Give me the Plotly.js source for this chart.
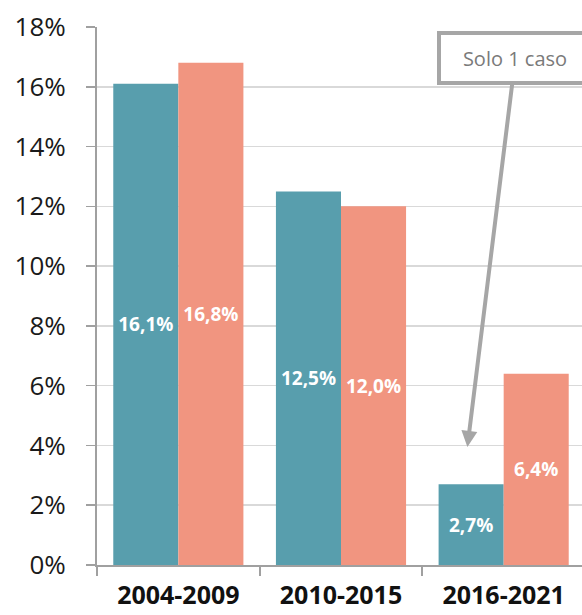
<!DOCTYPE html>
<html>
<head>
<meta charset="utf-8">
<script src="https://cdn.plot.ly/plotly-3.0.1.min.js"></script>
<style>
html,body{margin:0;padding:0;overflow:hidden;background:#fff;width:582px;height:615px;}
#chart{width:585px;height:615px;}
</style>
</head>
<body>
<div id="chart"></div>
<script>
const categories = ["2004-2009", "2010-2015", "2016-2021"];
const seriesA = [16.1, 12.5, 2.7];
const seriesB = [16.8, 12.0, 6.4];
const yTicks = [0, 2, 4, 6, 8, 10, 12, 14, 16, 18];
const noteText = "Solo 1 caso";

const fmt = v => v.toFixed(1).replace('.', ',') + '%';

const labelFont = {family: "Open Sans", size: 19, color: "#ffffff", weight: 700};

const traces = [
  {type: "bar", x: categories, y: seriesA, marker: {color: "#589EAD"},
   text: seriesA.map(v => "<b>" + fmt(v) + "</b>"), textposition: "inside", insidetextanchor: "middle",
   textangle: 0, constraintext: "none", textfont: labelFont, cliponaxis: false},
  {type: "bar", x: categories, y: seriesB, marker: {color: "#F19580"},
   text: seriesB.map(v => "<b>" + fmt(v) + "</b>"), textposition: "inside", insidetextanchor: "middle",
   textangle: 0, constraintext: "none", textfont: labelFont, cliponaxis: false}
];

const layout = {
  width: 585, height: 615,
  margin: {l: 97, r: 0, t: 27, b: 50},
  paper_bgcolor: "#ffffff", plot_bgcolor: "#ffffff",
  barmode: "group", bargap: 0.2, bargroupgap: 0,
  showlegend: false, hovermode: false,
  xaxis: {
    type: "category", range: [-0.5, 2.5],
    showline: true, linecolor: "#A0A0A0", linewidth: 2,
    ticks: "outside", tickson: "boundaries", ticklen: 9, tickcolor: "#A0A0A0", tickwidth: 2,
    tickfont: {family: "Open Sans", size: 25, color: "#111111", weight: 700},
    ticklabelstandoff: 7,
    showgrid: false, zeroline: false
  },
  yaxis: {
    range: [0, 18], tickvals: yTicks, ticktext: yTicks.map(v => v + "%"),
    showline: true, linecolor: "#A0A0A0", linewidth: 2,
    ticks: "outside", ticklen: 9, tickcolor: "#A0A0A0", tickwidth: 1.5,
    showgrid: true, gridcolor: "#D9D9D9", gridwidth: 1.5,
    zeroline: false,
    tickfont: {family: "Open Sans", size: 26, color: "#1a1a1a"},
    ticklabelstandoff: 15
  },
  annotations: [{
    x: 1.777, y: 3.95, xref: "x", yref: "y",
    ax: 48, ay: -389, axref: "pixel", ayref: "pixel",
    text: noteText, showarrow: true,
    arrowhead: 2, arrowsize: 0.8, arrowwidth: 4, arrowcolor: "#A6A6A6",
    font: {family: "Open Sans", size: 20, color: "#7a7a7a"},
    bgcolor: "#ffffff", bordercolor: "#A6A6A6", borderwidth: 4, borderpad: 6,
    width: 136, height: 34
  }]
};

Plotly.newPlot("chart", traces, layout, {staticPlot: true, displayModeBar: false});
</script>
</body>
</html>
